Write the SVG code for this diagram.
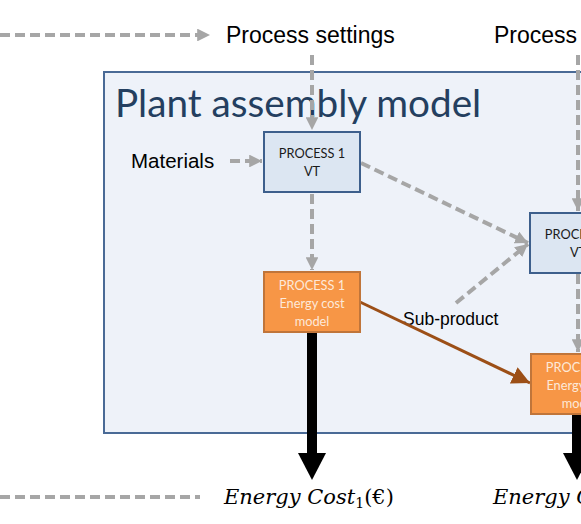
<svg xmlns="http://www.w3.org/2000/svg" width="581" height="524" viewBox="0 0 581 524">
<style>
.dash{fill:none;stroke:#a6a6a6;stroke-width:4;stroke-dasharray:10,5}
.lbl{font-family:"Liberation Sans",Arial,sans-serif;fill:#000}
.box{font-family:Lato,"Open Sans",sans-serif;font-size:12.8px;text-anchor:middle}
.vt{fill:#dce6f2;stroke:#3d5f8c;stroke-width:2}
.ec{fill:#f79646;stroke:#c0753a;stroke-width:2}
.math{font-family:"DejaVu Serif","Liberation Serif",serif;font-style:italic;font-size:21px;fill:#000}
</style>
<defs>
<marker id="ga" viewBox="0 0 10 10" refX="10" refY="5" markerWidth="3.2" markerHeight="3.2" orient="auto" markerUnits="strokeWidth">
<path d="M0,0 L10,5 L0,10 Z" fill="#a6a6a6"/>
</marker>
<marker id="ba" viewBox="0 0 10 10" refX="10" refY="5" markerWidth="6" markerHeight="6" orient="auto" markerUnits="strokeWidth">
<path d="M0,0 L10,5 L0,10 Z" fill="#9c4f17"/>
</marker>
</defs>
<rect width="581" height="524" fill="#fff"/>
<g id="plant">
<rect x="104" y="72" width="500" height="361" fill="#eef2f9" stroke="#4a6a96" stroke-width="2"/>
<text x="115" y="117" font-family="Lato,'Open Sans',sans-serif" font-size="38.7" fill="#243f60">Plant assembly model</text>
</g>
<g id="labels">
<text class="lbl" x="226" y="43" font-size="23">Process settings</text>
<text class="lbl" x="494" y="43" font-size="23">Process settings</text>
<text class="lbl" x="131" y="168" font-size="20.5">Materials</text>
<text class="lbl" x="403" y="325" font-size="17.5">Sub-product</text>
<text class="math" x="224" y="504">Energy Cost<tspan font-size="14" font-style="normal" dy="4">1</tspan><tspan font-style="normal" dy="-4">(€)</tspan></text>
<text class="math" x="493" y="504">Energy Cost<tspan font-size="14" font-style="normal" dy="4">2</tspan><tspan font-style="normal" dy="-4">(€)</tspan></text>
</g>
<g id="connectors">
<path class="dash" d="M0,35 H210" marker-end="url(#ga)"/>
<path class="dash" d="M0,497 H200"/>
<path class="dash" d="M312,55 V130" marker-end="url(#ga)"/>
<path class="dash" d="M578,55 V211" marker-end="url(#ga)"/>
<path class="dash" d="M230,161 H262" marker-end="url(#ga)"/>
<path class="dash" d="M312,194 V270" marker-end="url(#ga)"/>
<path class="dash" d="M361,163 L528,243" marker-end="url(#ga)"/>
<path class="dash" d="M456,303 L528,244" marker-end="url(#ga)"/>
<path class="dash" d="M578,274 V352" marker-end="url(#ga)"/>
<path d="M360,302 L530,383" fill="none" stroke="#9c4f17" stroke-width="3" marker-end="url(#ba)"/>
<path d="M312,333 V455" stroke="#000" stroke-width="10" fill="none"/>
<path d="M298,453 L326,453 L312,480 Z" fill="#000"/>
<path d="M577,415 V455" stroke="#000" stroke-width="10" fill="none"/>
<path d="M563,453 L591,453 L577,480 Z" fill="#000"/>
</g>
<g id="p1vt">
<rect class="vt" x="264" y="132" width="96" height="60"/>
<text class="box" x="312" y="158" fill="#1a1a1a">PROCESS 1</text>
<text class="box" x="312" y="176" fill="#1a1a1a">VT</text>
</g>
<g id="p1ec">
<rect class="ec" x="264" y="272" width="96" height="60"/>
<text class="box" x="312" y="290" fill="#fde9d9">PROCESS 1</text>
<text class="box" x="312" y="308" fill="#fde9d9">Energy cost</text>
<text class="box" x="312" y="326" fill="#fde9d9">model</text>
</g>
<g id="p2vt">
<rect class="vt" x="530" y="213" width="96" height="60"/>
<text class="box" x="578" y="239" fill="#1a1a1a">PROCESS 2</text>
<text class="box" x="578" y="257" fill="#1a1a1a">VT</text>
</g>
<g id="p2ec">
<rect class="ec" x="531" y="354" width="96" height="60"/>
<text class="box" x="579" y="372" fill="#fde9d9">PROCESS 2</text>
<text class="box" x="579" y="390" fill="#fde9d9">Energy cost</text>
<text class="box" x="579" y="408" fill="#fde9d9">model</text>
</g>
</svg>
